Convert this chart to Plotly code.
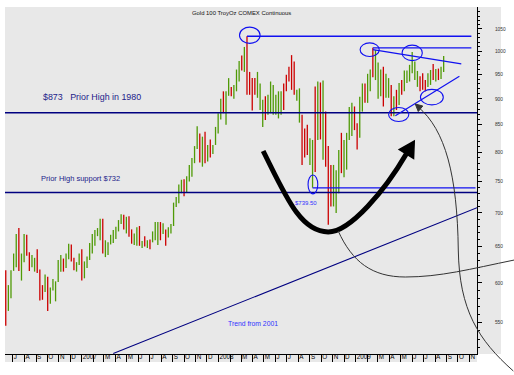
import plotly.graph_objects as go
import pandas as pd

# ---------------- data (weekly bars, Gold 100 oz COMEX continuous) ----------------
first_week = "2006-06-12"
high = [617, 597, 617, 640, 668, 677, 640, 668, 667, 642,
        638, 634, 646, 618, 597, 611, 608, 594, 605, 602,
        631, 638, 633, 640, 654, 653, 634, 628, 640, 646,
        629, 636, 655, 668, 674, 677, 691, 691, 659, 656,
        667, 674, 679, 689, 698, 697, 694, 695, 675, 669,
        678, 680, 658, 665, 659, 660, 672, 686, 686, 686,
        684, 675, 678, 683, 716, 725, 745, 753, 754, 759,
        778, 790, 811, 847, 834, 828, 837, 813, 823, 813,
        846, 872, 900, 915, 915, 942, 924, 928, 960, 978,
        990, 1009, 1033, 955, 942, 942, 955, 931, 898, 905,
        908, 935, 928, 908, 915, 915, 931, 949, 966, 991,
        977, 918, 921, 869, 843, 850, 825, 822, 925, 935,
        933, 937, 875, 811, 778, 778, 769, 804, 835, 822,
        835, 884, 892, 885, 853, 904, 931, 931, 951, 960,
        1007, 1002, 975, 960, 966, 951, 942, 928, 905, 918,
        932, 938, 958, 958, 970, 998, 977, 957, 946, 952,
        938, 952, 959, 972, 961, 962, 966, 989]
low = [546, 564, 580, 616, 621, 616, 603, 628, 637, 616,
       621, 615, 613, 577, 578, 588, 564, 573, 590, 576,
       601, 615, 615, 620, 632, 629, 617, 615, 624, 603,
       606, 620, 631, 640, 651, 665, 659, 640, 635, 638,
       653, 655, 661, 672, 683, 675, 669, 664, 654, 652,
       651, 651, 648, 650, 648, 646, 656, 659, 652, 659,
       668, 651, 663, 669, 680, 709, 715, 731, 726, 732,
       750, 758, 781, 806, 782, 775, 781, 784, 791, 797,
       813, 834, 860, 872, 850, 906, 905, 900, 915, 935,
       958, 955, 908, 908, 877, 908, 902, 878, 846, 859,
       869, 872, 869, 869, 862, 869, 878, 915, 935, 918,
       908, 896, 854, 778, 791, 795, 778, 740, 766, 822,
       823, 787, 775, 682, 710, 710, 700, 731, 764, 757,
       770, 822, 829, 840, 805, 826, 875, 892, 892, 915,
       944, 938, 900, 905, 885, 902, 902, 866, 866, 878,
       888, 908, 915, 932, 935, 952, 938, 924, 915, 918,
       915, 924, 928, 938, 935, 938, 940, 955]
# u = up week (green), d = down week (red)
direction = ("duuuuduuddu" "uddduduuuuu" "duuddu" "uduuuuuuudu" "uuuuuud"
             "uddu" "udududuuudu" "duuuuuuduuuuu" "dudud" "uuuudu" "uduuudu"
             "dddduuuduuuuuudddddu" "uddduudu" "duddduuuduuuu"
             "dduuduuduu" "uduudududu" "uuuuudddu" "ududuuudu" "uu")

month_ticks = pd.date_range("2006-07-01", "2009-11-01", freq="MS")
y_ticks = [550, 600, 650, 700, 750, 800, 850, 900, 950, 1000, 1050]
y_minor = [v for v in range(520, 1100, 10) if v % 50 != 0]

prior_high_1980 = 873
support_732 = 732
peak_2008 = 1033
peak_feb09 = 1007
low_sep08 = 739.5

# ---------------- derived ----------------
n = len(high)
direction = direction[:n]
dates = pd.date_range(first_week, periods=n, freq="7D")
opens = [l if d == "u" else h for h, l, d in zip(high, low, direction)]
closes = [h if d == "u" else l for h, l, d in zip(high, low, direction)]

tick_text = []
for d in month_ticks:
    if d.month == 1:
        tick_text.append(str(d.year))
    elif d.month == 2:
        tick_text.append("")
    else:
        tick_text.append(d.strftime("%b")[0])

W, H = 514, 375
L, R, T, B = 5, 476.7, 7, 354


def P(px, py):
    return (px - L) / (R - L), (B - py) / (B - T)


def path(cmds):
    out = []
    for c in cmds:
        if isinstance(c, str):
            out.append(c)
        else:
            x, y = P(*c)
            out.append(f"{x:.5f},{y:.5f}")
    return " ".join(out)


FONT = "Arial, Liberation Sans, sans-serif"
NAVY = "#000080"
BLUE = "#1010f0"

fig = go.Figure()
fig.add_trace(go.Ohlc(
    x=dates, open=opens, high=high, low=low, close=closes,
    increasing=dict(line=dict(color="#4f9a06", width=1.3)),
    decreasing=dict(line=dict(color="#cc0000", width=1.3)),
    tickwidth=0, hoverinfo="skip", showlegend=False))

shapes = []
# gray panel (plot area + label strip on the right/bottom)
gx1, _ = P(500.7, 0)
_, gy0 = P(0, 362)
shapes.append(dict(type="rect", xref="paper", yref="paper", x0=0, x1=gx1, y0=0, y1=1,
                   fillcolor="#e8e8e8", line=dict(width=0), layer="below"))
shapes.append(dict(type="rect", xref="paper", yref="paper", x0=0, x1=1, y0=gy0, y1=0,
                   fillcolor="#e8e8e8", line=dict(width=0), layer="below"))

# horizontal reference lines
for v in (prior_high_1980, support_732):
    shapes.append(dict(type="line", xref="paper", yref="y", x0=0, x1=1, y0=v, y1=v,
                       line=dict(color=NAVY, width=1.5)))
shapes.append(dict(type="line", xref="x", yref="y", x0=dates[92], x1="2009-11-06",
                   y0=peak_2008, y1=peak_2008, line=dict(color=BLUE, width=1.3)))
shapes.append(dict(type="line", xref="x", yref="y", x0=dates[140], x1="2009-11-06",
                   y0=peak_feb09, y1=peak_feb09, line=dict(color=BLUE, width=1.3)))
shapes.append(dict(type="line", xref="x", yref="y", x0=dates[117], x1="2009-11-17",
                   y0=low_sep08, y1=low_sep08, line=dict(color=BLUE, width=1.3)))
# trend line and triangle lines
shapes.append(dict(type="line", xref="x", yref="y", x0="2007-03-26", y0=513.6,
                   x1="2009-11-21", y1=708, line=dict(color=NAVY, width=1.1)))
shapes.append(dict(type="line", xref="x", yref="y", x0=dates[140], y0=1003,
                   x1="2009-10-10", y1=972, line=dict(color=BLUE, width=1.2)))
shapes.append(dict(type="line", xref="x", yref="y", x0="2009-04-17", y0=867,
                   x1="2009-10-05", y1=946, line=dict(color=BLUE, width=1.2)))
# ellipses
ellipses = [("2008-02-26", "2008-04-21", 1017, 1054),
            ("2008-08-27", "2008-09-22", 730, 761),
            ("2009-01-13", "2009-03-05", 988, 1018),
            ("2009-05-05", "2009-06-28", 979, 1013),
            ("2009-03-30", "2009-05-23", 856, 883),
            ("2009-06-23", "2009-08-23", 888, 919)]
for x0, x1, y0, y1 in ellipses:
    shapes.append(dict(type="circle", xref="x", yref="y", x0=x0, x1=x1, y0=y0, y1=y1,
                       line=dict(color=BLUE, width=1.1)))

# thick cup arrow
shapes.append(dict(type="path", xref="paper", yref="paper",
                   path=path(["M", (263, 151), "C", (285, 195), (300, 232), (328, 232),
                              "C", (350, 232), (385, 190), (406, 154)]),
                   line=dict(color="black", width=5)))
shapes.append(dict(type="path", xref="paper", yref="paper",
                   path=path(["M", (414, 141), "L", (413.3, 158.5), "L", (399, 149.5), "Z"]),
                   fillcolor="black", line=dict(color="black", width=1.5)))
# thin curves
shapes.append(dict(type="path", xref="paper", yref="paper",
                   path=path(["M", (338, 231), "C", (352, 262), (372, 277), (405, 277),
                              "C", (440, 277), (470, 269), (514, 260)]),
                   line=dict(color="#333333", width=1)))
shapes.append(dict(type="path", xref="paper", yref="paper",
                   path=path(["M", (513, 371), "C", (478, 340), (459, 310), (458, 250),
                              "C", (457, 175), (445, 130), (418, 107)]),
                   line=dict(color="#333333", width=1)))
shapes.append(dict(type="path", xref="paper", yref="paper",
                   path=path(["M", (415, 104), "L", (422.5, 106), "L", (418, 111.5), "Z"]),
                   fillcolor="#333333", line=dict(color="#333333", width=1)))

annotations = []


def txt(s, px, py, size, color, anchor="left"):
    x, y = P(px, py)
    annotations.append(dict(text=s, x=x, y=y, xref="paper", yref="paper",
                            xanchor=anchor, yanchor="middle", showarrow=False,
                            font=dict(family=FONT, size=size, color=color)))


txt("Gold 100 TroyOz COMEX Continuous", 190, 13, 5.9, "#111111")
txt("$873&nbsp;&nbsp;&nbsp;Prior High in 1980", 41, 97, 8.9, "#22228a")
txt("Prior High support $732", 39, 178, 7.5, "#22228a")
txt("$739.50", 293, 203, 6, "#3030ff")
txt("Trend from 2001", 226, 323, 6.8, "#3030ff")

fig.update_layout(
    width=W, height=H,
    margin=dict(l=L, r=W - R, t=T, b=H - B),
    paper_bgcolor="white", plot_bgcolor="#e8e8e8",
    showlegend=False, shapes=shapes, annotations=annotations,
    font=dict(family=FONT),
    xaxis=dict(type="date", range=["2006-06-10", "2009-11-21"],
               rangeslider=dict(visible=False),
               tickmode="array", tickvals=month_ticks, ticktext=tick_text,
               ticks="outside", ticklen=7, tickcolor="black", tickwidth=1,
               tickangle=0,
               ticklabelposition="outside right", ticklabelstandoff=-4,
               tickfont=dict(size=6.3, color="#000000", family=FONT),
               showline=True, linecolor="black", linewidth=1,
               showgrid=False, zeroline=False),
    yaxis=dict(type="log", side="right", range=[2.71005, 3.04211],
               tickmode="array", tickvals=y_ticks, ticktext=[str(v) for v in y_ticks],
               ticks="outside", ticklen=4, tickcolor="black", tickwidth=1,
               ticklabelstandoff=12,
               tickfont=dict(size=4.8, color="#333333", family=FONT),
               minor=dict(tickmode="array", tickvals=y_minor, ticks="outside",
                          ticklen=2, tickcolor="black", showgrid=False),
               showline=True, linecolor="black", linewidth=1,
               showgrid=False, zeroline=False),
)

fig.write_html("out.html", config={"displayModeBar": False},
               post_script="document.body.style.margin='0';document.body.style.padding='0';")
